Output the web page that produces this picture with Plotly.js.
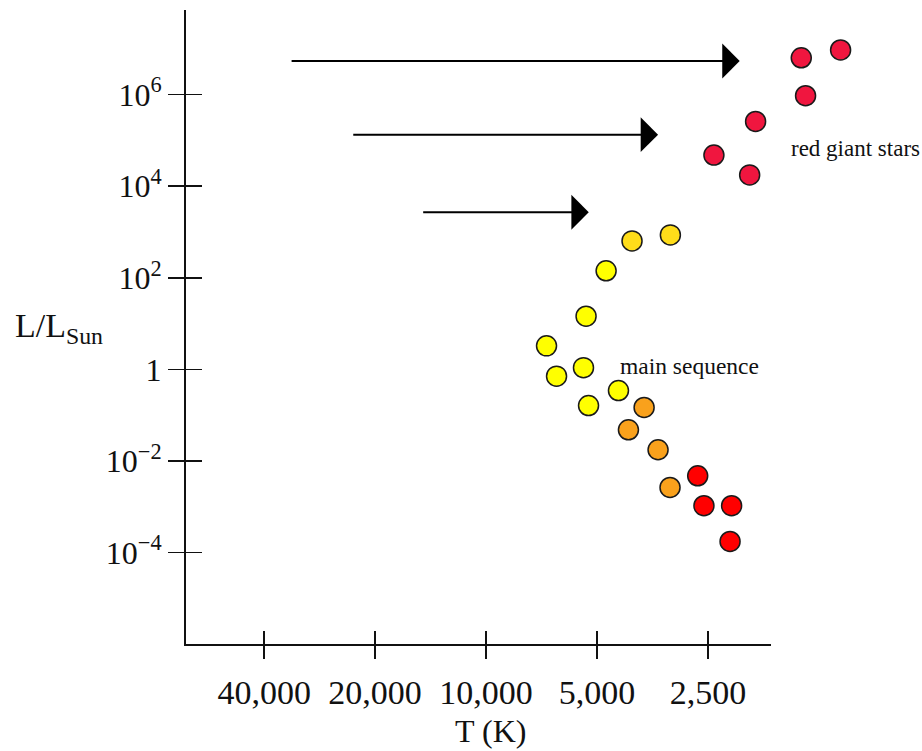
<!DOCTYPE html>
<html>
<head>
<meta charset="utf-8">
<script src="https://cdn.plot.ly/plotly-3.0.1.min.js"></script>
<style>html,body{margin:0;padding:0;background:#fff;}#chart{width:922px;height:751px;}</style>
</head>
<body>
<div id="chart"></div>
<script>
// ---- data (temperature in K, luminosity in L/Lsun) ----
const giantT = [1396, 1092, 1359, 1857, 2409, 1927];
const giantL = [6.4e6, 9.5e6, 9.5e5, 2.6e5, 4.8e4, 1.77e4];

const goldT = [4018, 3162];
const goldL = [640, 865];

const yellowT = [4724, 5354, 6854, 5441, 6438, 4373, 5272];
const yellowL = [142, 14.5, 3.26, 1.09, 0.71, 0.344, 0.162];

const orangeT = [3726, 4109, 3415, 3169];
const orangeL = [0.147, 0.0478, 0.0175, 0.00263];

const redT = [2666, 2564, 2157, 2178];
const redL = [0.00473, 0.00105, 0.00105, 0.000174];

// arrows: tail temperature, head temperature, luminosity
const arrowTailT = [34010, 23140, 14950];
const arrowHeadT = [2051, 3415, 5265];
const arrowL = [5.45e6, 1.34e5, 2704];

const xTickVals = [40000, 20000, 10000, 5000, 2500];
const xTickText = ["40,000", "20,000", "10,000", "5,000", "2,500"];
const yTickVals = [1e6, 1e4, 1e2, 1, 1e-2, 1e-4];
const yTickText = ["10<sup>6</sup>", "10<sup>4</sup>", "10<sup>2</sup>", "1", "10<sup>\u22122</sup>", "10<sup>\u22124</sup>"];

const serif = "Liberation Serif, Times New Roman, serif";

function starTrace(x, y, color) {
  return {
    type: "scatter", mode: "markers", x: x, y: y, xaxis: "x3", yaxis: "y",
    cliponaxis: false, hoverinfo: "skip", showlegend: false,
    marker: {size: 20, color: color, line: {color: "#1a1a1a", width: 1.5}}
  };
}

const traces = [
  starTrace(giantT, giantL, "#F0163F"),
  starTrace(goldT, goldL, "#FFDD1A"),
  starTrace(yellowT, yellowL, "#FFFF00"),
  starTrace(orangeT, orangeL, "#F9A11C"),
  starTrace(redT, redL, "#FF0000"),
  {type: "scatter", mode: "markers", x: [], y: [], xaxis: "x", yaxis: "y", showlegend: false, hoverinfo: "skip"},
  {type: "scatter", mode: "markers", x: [], y: [], xaxis: "x2", yaxis: "y2", showlegend: false, hoverinfo: "skip"}
];

// visible axis spans 585 px of a 694 px wide plot area
const axisFrac = 585 / 694;
const xRange = [4.814, 3.227];
const xRangeFull = [xRange[0], xRange[0] - (xRange[0] - xRange[1]) / axisFrac];
const yRange = [-6, 7.85];

const annotations = [];
for (let i = 0; i < arrowL.length; i++) {
  annotations.push({
    x: Math.log10(arrowHeadT[i]), y: Math.log10(arrowL[i]), xref: "x3", yref: "y",
    ax: Math.log10(arrowTailT[i]), ay: Math.log10(arrowL[i]), axref: "x3", ayref: "y",
    showarrow: true, arrowhead: 1, arrowsize: 2.9, arrowwidth: 2, arrowcolor: "#000", text: ""
  });
}
annotations.push(
  {text: "red giant stars", xref: "paper", yref: "paper", x: 603 / 694, y: 0.781, xanchor: "left", yanchor: "middle",
   showarrow: false, font: {family: serif, size: 23, color: "#111"}},
  {text: "main sequence", xref: "paper", yref: "paper", x: 432 / 694, y: 0.4385, xanchor: "left", yanchor: "middle",
   showarrow: false, font: {family: serif, size: 23.5, color: "#111"}},
  {text: "L/L<sub>Sun</sub>", xref: "paper", yref: "paper", x: -173 / 694, y: 0.4984, xanchor: "left", yanchor: "middle",
   showarrow: false, font: {family: serif, size: 34, color: "#111"}},
  {text: "T (K)", xref: "paper", yref: "paper", x: 304 / 694, y: -0.137, xanchor: "center", yanchor: "middle",
   showarrow: false, font: {family: serif, size: 32, color: "#111"}}
);

const layout = {
  width: 922, height: 751,
  margin: {l: 186, r: 42, t: 10, b: 107, pad: 0},
  paper_bgcolor: "#fff", plot_bgcolor: "rgba(0,0,0,0)",
  showlegend: false,
  xaxis: {
    type: "log", range: xRange, domain: [0, axisFrac], anchor: "y",
    showgrid: false, zeroline: false,
    showline: true, linecolor: "#111", linewidth: 2, mirror: false,
    ticks: "outside", ticklen: 13, tickwidth: 1.5, tickcolor: "#111",
    tickmode: "array", tickvals: xTickVals, ticktext: xTickText,
    tickfont: {family: serif, size: 34, color: "#111"}, ticklabelstandoff: 4
  },
  yaxis: {
    type: "log", range: yRange, anchor: "x", showgrid: false, zeroline: false,
    showline: true, linecolor: "#111", linewidth: 2, mirror: false,
    ticks: "outside", ticklen: 16, tickwidth: 1.5, tickcolor: "#111",
    tickmode: "array", tickvals: yTickVals, ticktext: yTickText,
    tickfont: {family: serif, size: 32, color: "#111"}, ticklabelstandoff: 0
  },
  xaxis2: {
    type: "log", range: xRange, overlaying: "x", anchor: "y2", side: "bottom",
    showgrid: false, zeroline: false, showline: false, showticklabels: false,
    ticks: "inside", ticklen: 13, tickwidth: 1.5, tickcolor: "#111",
    tickmode: "array", tickvals: xTickVals
  },
  yaxis2: {
    type: "log", range: yRange, overlaying: "y", anchor: "x2", side: "left",
    showgrid: false, zeroline: false, showline: false, showticklabels: false,
    ticks: "inside", ticklen: 16, tickwidth: 1.5, tickcolor: "#111",
    tickmode: "array", tickvals: yTickVals
  },
  xaxis3: {
    type: "log", range: xRangeFull, domain: [0, 1], anchor: "y",
    showgrid: false, zeroline: false, showline: false, showticklabels: false, ticks: ""
  },
  annotations: annotations
};

Plotly.newPlot("chart", traces, layout, {staticPlot: true, displayModeBar: false});
</script>
</body>
</html>
